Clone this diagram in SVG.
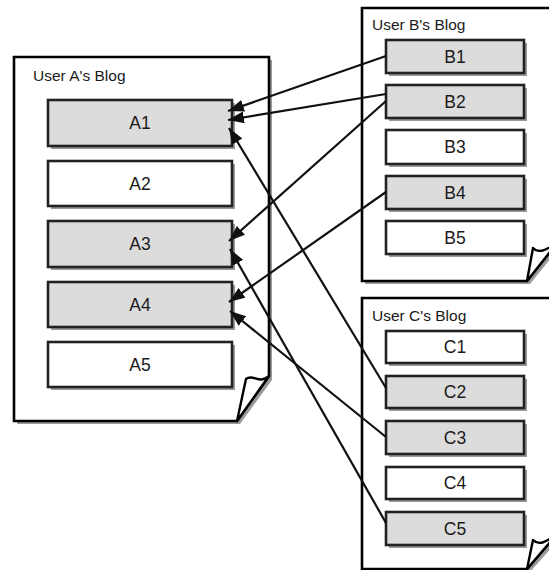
<svg xmlns="http://www.w3.org/2000/svg" width="549" height="570" viewBox="0 0 549 570">
  <style>
    .page { fill: #ffffff; stroke: #000000; stroke-width: 2.6; stroke-linejoin: miter; }
    .pshadow { fill: #9a9a9a; stroke: none; }
    .curl { fill: #ffffff; stroke: #000000; stroke-width: 2.4; stroke-linejoin: round; }
    .post { stroke: #222222; stroke-width: 2.6; }
    .on { fill: #dcdcdc; }
    .off { fill: #ffffff; }
    .bshadow { fill: none; stroke: #9a9a9a; stroke-width: 2; }
    .title { font-family: "Liberation Sans", Arial, sans-serif; font-size: 15.5px; fill: #1a1a1a; }
    .label { font-family: "Liberation Sans", Arial, sans-serif; font-size: 17.5px; fill: #1a1a1a; text-anchor: middle; }
    .link { stroke: #111111; stroke-width: 2.2; fill: none; marker-end: url(#head); }
  </style>
  <defs>
    <marker id="head" markerUnits="userSpaceOnUse" markerWidth="17" markerHeight="12" refX="16" refY="6" orient="auto">
      <path d="M0,0 L16,6 L0,12 z" fill="#111111"/>
    </marker>
  </defs>

  <rect width="549" height="570" fill="#ffffff"/>

  <!-- Blog of user A -->
  <g id="blogA">
    <path class="pshadow" d="M17,60 H272 V380 L240,424 H17 z"/>
    <path class="page" d="M14,57 H269 V376 L237,421 H14 z"/>
    <path class="curl" d="M237,421 L246,379 C253,373 259,385 269,376 z"/>
    <text class="title" x="33" y="81">User A's Blog</text>
  </g>
  <g id="A1"><path class="bshadow" d="M234,103 V148 H51"/><rect class="post on" x="48" y="100" width="184" height="46"/><text class="label" x="140" y="129">A1</text></g>
  <g id="A2"><path class="bshadow" d="M234,164 V208 H51"/><rect class="post off" x="48" y="161" width="184" height="45"/><text class="label" x="140" y="189.5">A2</text></g>
  <g id="A3"><path class="bshadow" d="M234,224 V269 H51"/><rect class="post on" x="48" y="221" width="184" height="46"/><text class="label" x="140" y="250">A3</text></g>
  <g id="A4"><path class="bshadow" d="M234,285 V329 H51"/><rect class="post on" x="48" y="282" width="184" height="45"/><text class="label" x="140" y="310.5">A4</text></g>
  <g id="A5"><path class="bshadow" d="M234,345 V389 H51"/><rect class="post off" x="48" y="342" width="184" height="45"/><text class="label" x="140" y="370.5">A5</text></g>

  <!-- Blog of user B -->
  <g id="blogB">
    <path class="pshadow" d="M365,11 H560 V247 L530,284 H365 z"/>
    <path class="page" d="M362,8 H557 V243 L527,281 H362 z"/>
    <path class="curl" d="M527,281 L533,248 C539,254 546,250 557,243 z"/>
    <text class="title" x="372" y="30">User B's Blog</text>
  </g>
  <g id="B1"><path class="bshadow" d="M526,43 V75 H389"/><rect class="post on" x="386" y="40" width="138" height="33"/><text class="label" x="455" y="62.5">B1</text></g>
  <g id="B2"><path class="bshadow" d="M526,88 V120 H389"/><rect class="post on" x="386" y="85" width="138" height="33"/><text class="label" x="455" y="107.5">B2</text></g>
  <g id="B3"><path class="bshadow" d="M526,133 V166 H389"/><rect class="post off" x="386" y="130" width="138" height="34"/><text class="label" x="455" y="153">B3</text></g>
  <g id="B4"><path class="bshadow" d="M526,179 V211 H389"/><rect class="post on" x="386" y="176" width="138" height="33"/><text class="label" x="455" y="198.5">B4</text></g>
  <g id="B5"><path class="bshadow" d="M526,224 V256 H389"/><rect class="post off" x="386" y="221" width="138" height="33"/><text class="label" x="455" y="243.5">B5</text></g>

  <!-- Blog of user C -->
  <g id="blogC">
    <path class="pshadow" d="M365,301 H560 V538 L530,572 H365 z"/>
    <path class="page" d="M362,298 H557 V534 L527,569 H362 z"/>
    <path class="curl" d="M527,569 L533,540 C539,546 546,542 557,534 z"/>
    <text class="title" x="372" y="321">User C's Blog</text>
  </g>
  <g id="C1"><path class="bshadow" d="M526,334 V365 H389"/><rect class="post off" x="386" y="331" width="138" height="32"/><text class="label" x="455" y="353">C1</text></g>
  <g id="C2"><path class="bshadow" d="M526,379 V410 H389"/><rect class="post on" x="386" y="376" width="138" height="32"/><text class="label" x="455" y="398">C2</text></g>
  <g id="C3"><path class="bshadow" d="M526,424 V456 H389"/><rect class="post on" x="386" y="421" width="138" height="33"/><text class="label" x="455" y="443.5">C3</text></g>
  <g id="C4"><path class="bshadow" d="M526,470 V501 H389"/><rect class="post off" x="386" y="467" width="138" height="32"/><text class="label" x="455" y="489">C4</text></g>
  <g id="C5"><path class="bshadow" d="M526,515 V547 H389"/><rect class="post on" x="386" y="512" width="138" height="33"/><text class="label" x="455" y="534.5">C5</text></g>

  <!-- links between posts -->
  <g id="links">
    <line class="link" x1="386" y1="56" x2="228" y2="111"/>
    <line class="link" x1="386" y1="94" x2="228" y2="120"/>
    <line class="link" x1="386" y1="101" x2="229" y2="241"/>
    <line class="link" x1="386" y1="192" x2="229" y2="302"/>
    <line class="link" x1="386" y1="388" x2="229" y2="128"/>
    <line class="link" x1="386" y1="437" x2="230" y2="311"/>
    <line class="link" x1="386" y1="523" x2="230" y2="249"/>
  </g>
</svg>
